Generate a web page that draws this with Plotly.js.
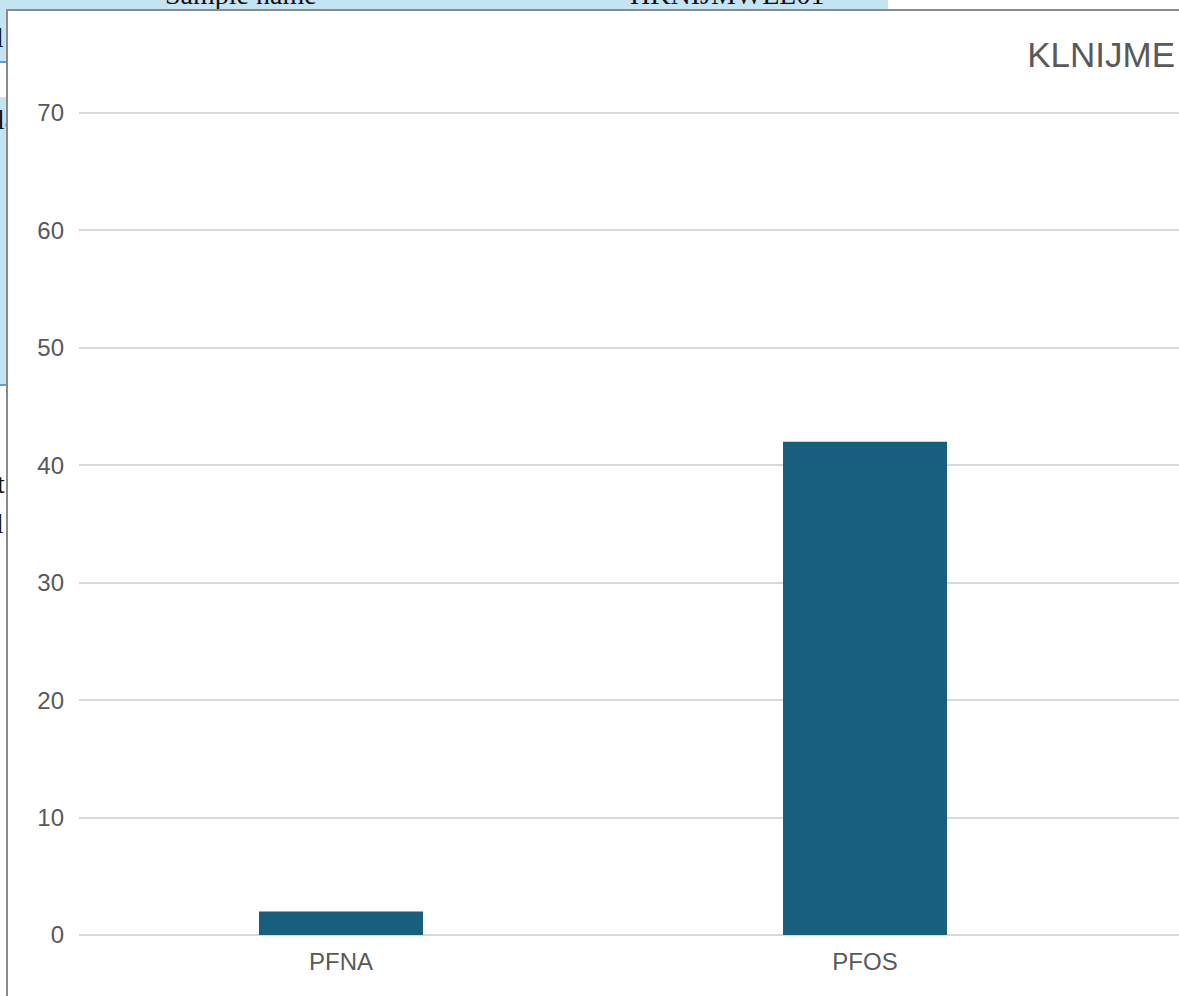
<!DOCTYPE html>
<html>
<head>
<meta charset="utf-8">
<script src="https://cdn.plot.ly/plotly-3.0.1.min.js"></script>
<style>
  html, body { margin: 0; padding: 0; width: 1179px; height: 996px; overflow: hidden; background: #ffffff; }
  .sheet { position: absolute; font-family: "Liberation Serif", "Times New Roman", serif; font-size: 28px; color: #111; white-space: nowrap; }
  #topband { position: absolute; left: 0; top: 0; width: 888px; height: 12px; background: #c4e3f3; overflow: hidden; }
  #leftstrip { position: absolute; left: 0; top: 0; width: 7px; height: 996px; overflow: hidden; }
  .cellblue { position: absolute; left: 0; width: 7px; background: #c4e3f3; }
  .cellline { position: absolute; left: 0; width: 7px; height: 2px; background: #5b9fd6; }
  #frame { position: absolute; left: 6px; top: 9px; width: 1400px; height: 1000px;
           border-left: 2px solid #8a8a8a; border-top: 2px solid #8a8a8a; background: #ffffff; }
  #chart { position: absolute; left: 0; top: 0; width: 1300px; height: 985px; }
</style>
</head>
<body>
<!-- worksheet cells behind the chart -->
<div id="topband">
  <span class="sheet" style="left:165px; top:-21px;">Sample name</span>
  <span class="sheet" style="left:630px; top:-21px;">HKNIJMWEL01</span>
</div>
<div id="leftstrip">
  <div class="cellblue" style="top:0; height:61px;"></div>
  <div class="cellline" style="top:61px;"></div>
  <div class="cellblue" style="top:97px; height:287px;"></div>
  <div class="cellline" style="top:384px;"></div>
  <span class="sheet" style="left:-4px; top:22px;">l</span>
  <span class="sheet" style="left:-3px; top:104px;">la</span>
  <span class="sheet" style="left:-3px; top:468px;">t</span>
  <span class="sheet" style="left:-4px; top:508px;">l</span>
</div>

<div id="frame"><div id="chart"></div></div>

<script>
// PFAS concentrations for the sample
const compounds = ["PFNA", "PFOS"];
const concentrations = [2, 42];
const yTicks = [0, 10, 20, 30, 40, 50, 60, 70];
const chartTitle = "KLNIJME";

const textGrey = "#595959";
const gridGrey = "#d9d9d9";
const barBlue = "#185f7e";
const sans = "Liberation Sans, Arial, sans-serif";

const trace = {
  type: "bar",
  x: compounds,
  y: concentrations,
  width: 0.313,
  marker: { color: barBlue, line: { width: 0 } },
  hoverinfo: "x+y"
};

const layout = {
  width: 1300,
  height: 985,
  margin: { l: 71, r: 108, t: 100, b: 61 },
  paper_bgcolor: "#ffffff",
  plot_bgcolor: "#ffffff",
  showlegend: false,
  title: {
    text: chartTitle,
    font: { family: sans, size: 35, color: textGrey },
    xref: "container",
    x: 0.8977,
    xanchor: "right",
    yref: "container",
    y: 0.9553,
    yanchor: "middle"
  },
  xaxis: {
    type: "category",
    range: [-0.5, 1.6393],
    showgrid: false,
    showline: false,
    zeroline: false,
    ticks: "",
    ticklabelstandoff: 10,
    tickfont: { family: sans, size: 24, color: textGrey },
    fixedrange: true
  },
  yaxis: {
    // a little headroom above 70 so its gridline is drawn
    range: [0, 70.17],
    tickvals: yTicks,
    ticktext: yTicks.map(String),
    showgrid: true,
    gridcolor: gridGrey,
    gridwidth: 2,
    zeroline: true,
    zerolinecolor: gridGrey,
    zerolinewidth: 2,
    showline: false,
    ticks: "",
    ticklabelstandoff: 14,
    tickfont: { family: sans, size: 24, color: textGrey },
    fixedrange: true
  }
};

Plotly.newPlot("chart", [trace], layout, { displayModeBar: false, staticPlot: true });
</script>
</body>
</html>
